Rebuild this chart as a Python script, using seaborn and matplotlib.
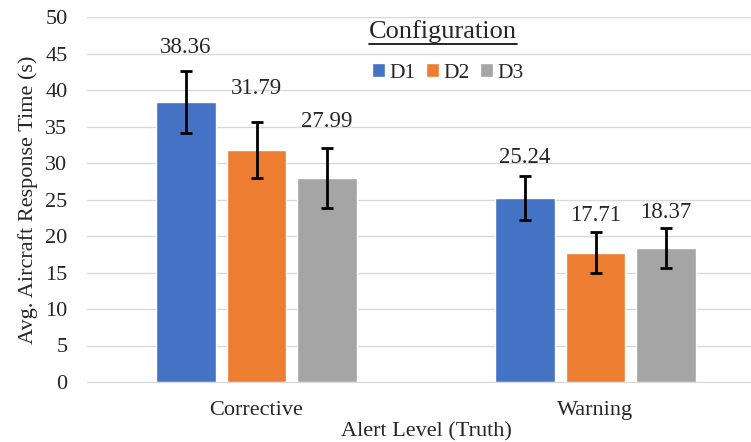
import numpy as np
import pandas as pd
import seaborn as sns
import matplotlib.pyplot as plt
from matplotlib.patches import Patch
from matplotlib.lines import Line2D

# Data
alert_levels = ['Corrective', 'Warning']
configs = ['D1', 'D2', 'D3']
d1_mean = [38.36, 25.24]
d2_mean = [31.79, 17.71]
d3_mean = [27.99, 18.37]
d1_err = [4.2, 3.0]
d2_err = [3.8, 2.8]
d3_err = [4.1, 2.7]

colors = ['#4472C4', '#ED7D31', '#A5A5A5']

# label lift above error bar top, in points (layout only)
label_lift = [[17, 13], [24, 12], [19, 11]]

means = [d1_mean, d2_mean, d3_mean]
errs = [d1_err, d2_err, d3_err]

rows = []
for c, m in zip(configs, means):
    for a, v in zip(alert_levels, m):
        rows.append({'alert': a, 'config': c, 'time': v})
df = pd.DataFrame(rows)

sns.set_style('white')
plt.rcParams['font.family'] = ['Liberation Serif', 'DejaVu Serif']

W, H = 751, 442
fig = plt.figure(figsize=(W / 100, H / 100), dpi=100)
ax = fig.add_axes([87 / W, 60 / H, (765 - 87) / W, 365 / H])

sns.barplot(data=df, x='alert', y='time', hue='config', palette=colors,
            width=0.624, gap=0.16, errorbar=None, ax=ax, legend=False,
            saturation=1)

# bars sorted left to right: category j, config i
bars = sorted([p for p in ax.patches if p.get_height() > 0],
              key=lambda p: p.get_x())
for k, bar in enumerate(bars):
    j, i = divmod(k, len(configs))
    x = bar.get_x() + bar.get_width() / 2
    y = bar.get_height()
    e = errs[i][j]
    ax.errorbar(x, y, yerr=e, fmt='none', ecolor='black', elinewidth=2,
                capsize=4.5, capthick=2, zorder=5)
    ax.annotate(f'{means[i][j]:.2f}', (x, y + e), xytext=(0, label_lift[i][j]),
                textcoords='offset points', ha='center', va='center',
                fontsize=16.5)

ax.set_ylim(0, 50)
ax.set_xlim(-0.5, 1.5)
ax.set_yticks(range(0, 51, 5))
ax.yaxis.grid(True, color='#d9d9d9', linewidth=1)
ax.set_axisbelow(True)
for s in ['top', 'right', 'left']:
    ax.spines[s].set_visible(False)
ax.spines['bottom'].set_color('#d9d9d9')
ax.tick_params(axis='both', length=0, labelsize=16)
ax.tick_params(axis='y', pad=14)
ax.tick_params(axis='x', pad=14)
ax.set_xlabel('Alert Level (Truth)', fontsize=16, labelpad=1)
ax.set_ylabel('Avg. Aircraft Response Time (s)', fontsize=16, labelpad=5)

# legend
handles = [Patch(facecolor=c) for c in colors]
ax.legend(handles, configs, loc='center', ncol=3, frameon=False,
          bbox_to_anchor=(448 / W, 1 - 73 / H), bbox_transform=fig.transFigure,
          fontsize=15.5, handlelength=0.6, handleheight=0.6,
          handletextpad=0.2, columnspacing=0.5)

t = fig.text(443 / W, 1 - 32 / H, 'Configuration', ha='center', va='center',
             fontsize=19)
fig.canvas.draw()
bb = t.get_window_extent()
uy = (bb.y0 - 1) / H
fig.add_artist(Line2D([bb.x0 / W, bb.x1 / W], [uy, uy], color='black',
                      linewidth=1.2, transform=fig.transFigure))

fig.savefig('out.png', dpi=100)
